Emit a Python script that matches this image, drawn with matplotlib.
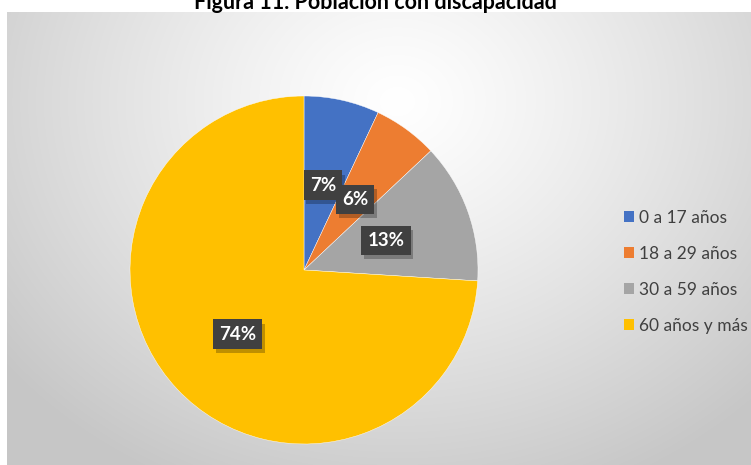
import numpy as np
import matplotlib.pyplot as plt
import matplotlib.patheffects as pe
from matplotlib.patches import Patch

plt.rcParams['font.family'] = ['Lato', 'DejaVu Sans']

title = 'Figura 11. Población con discapacidad'
categories = ['0 a 17 años', '18 a 29 años', '30 a 59 años', '60 años y más']
shares = [7, 6, 13, 74]
colors = ['#4472C4', '#ED7D31', '#A5A5A5', '#FFC000']

W, H = 751, 465
fig = plt.figure(figsize=(W / 100, H / 100), dpi=100)
fig.patch.set_facecolor('white')

# radial grey gradient behind the chart
bg = fig.add_axes([7 / W, 0, (W - 7) / W, (H - 12) / H])
bg.set_axis_off()
ny, nx = 453, 744
yy, xx = np.mgrid[0:ny, 0:nx]
cx, cy = 390, 90
d = np.sqrt(((xx - cx) / 500.0) ** 2 + ((yy - cy) / 420.0) ** 2)
d = np.clip(d, 0, 1)
shade = 1.0 - 0.22 * d ** 1.2
img = np.dstack([shade, shade, shade])
bg.imshow(img, aspect='auto', interpolation='bilinear')

fig.text(0.5, 1 - 9 / H, title, ha='center', va='baseline',
         fontsize=15.5, fontweight='bold', color='black')

# pie
cxp, cyp, r = 304, 270, 174
ax = fig.add_axes([(cxp - r) / W, (H - cyp - r) / H, 2 * r / W, 2 * r / H])
ax.set_axis_off()
ax.patch.set_visible(False)
wedges, _ = ax.pie(shares, colors=colors, startangle=90, counterclock=False,
                   radius=1, wedgeprops=dict(edgecolor='white', linewidth=0.3))
ax.set_xlim(-1, 1)
ax.set_ylim(-1, 1)
ax.set_aspect('equal')

# data labels in dark boxes with a soft drop shadow
for w, v in zip(wedges, shares):
    ang = np.deg2rad((w.theta1 + w.theta2) / 2)
    dist = 0.5
    if v == max(shares):
        ang = np.deg2rad(224)
        dist = 0.53
    x, y = dist * np.cos(ang), dist * np.sin(ang)
    t = ax.text(x, y, f'{v}%', ha='center', va='center',
                fontsize=13.5, fontweight='bold', color='white',
                bbox=dict(boxstyle='square,pad=0.33', fc='#404040', ec='none'))
    t.get_bbox_patch().set_path_effects(
        [pe.withSimplePatchShadow(offset=(2, -3), shadow_rgbFace='black', alpha=0.25)])

handles = [Patch(facecolor=c, edgecolor='none') for c in colors]
leg = fig.legend(handles, categories, loc='center left',
                 bbox_to_anchor=(617 / W, 1 - 272 / H), frameon=False,
                 fontsize=12.5, handlelength=0.6, handleheight=0.6,
                 handletextpad=0.25, labelspacing=1.15, borderaxespad=0)
for t in leg.get_texts():
    t.set_color('#404040')

fig.savefig('out.png', dpi=100)
